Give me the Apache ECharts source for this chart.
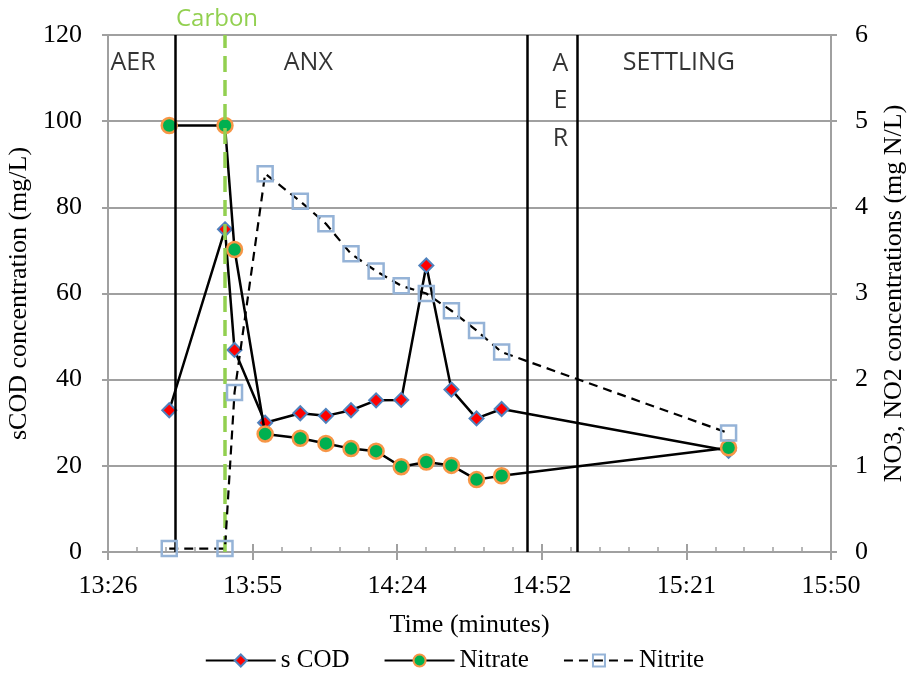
<!DOCTYPE html>
<html>
<head>
<meta charset="utf-8">
<script src="https://cdn.jsdelivr.net/npm/echarts@6/dist/echarts.min.js"></script>
<style>
  html, body { margin: 0; padding: 0; background: #fff; }
  #main { width: 909px; height: 676px; }
</style>
</head>
<body>
<div id="main"></div>
<script>
// sample times, in minutes after midnight
const times = [818.6, 829.7, 831.6, 837.7, 844.7, 849.8, 854.8, 859.8, 864.8, 869.8, 874.8, 879.8, 884.8, 930.0];
const scod = [32.9, 74.9, 46.9, 30.0, 32.2, 31.6, 32.9, 35.2, 35.3, 66.5, 37.7, 31.0, 33.2, 23.5];
const nitrate = [4.95, 4.95, 3.51, 1.37, 1.32, 1.26, 1.20, 1.17, 0.99, 1.045, 1.005, 0.84, 0.885, 1.21];
const nitrite = [0.04, 0.04, 1.85, 4.39, 4.07, 3.81, 3.46, 3.26, 3.09, 3.0, 2.80, 2.57, 2.32, 1.38];

// phase boundaries and carbon dosing time (minutes)
const phaseLines = [819.7, 889.85, 899.9];
const carbonTime = 829.7;
const phaseNames = ['AER', 'ANX', 'A\nE\nR', 'SETTLING'];
const phaseLabelTimes = [811.4, 846.3, 896.5, 920.1];
const phaseLabelLevels = [113.5, 113.5, 104.7, 113.5];

const serif = 'Liberation Serif';
const sans = 'Open Sans';
const grey = '#a0a0a0';

function toClock(v) {
    const m = Math.floor(v + 0.01);
    const h = Math.floor(m / 60);
    const mm = m % 60;
    return h + ':' + (mm < 10 ? '0' : '') + mm;
}

const pairs = arr => arr.map((v, i) => [times[i], v]);

const chart = echarts.init(document.getElementById('main'));

const xRange = { type: 'value', min: 806.4, max: 950.4, interval: 28.8 };

chart.setOption({
    animation: false,
    textStyle: { fontFamily: serif, color: '#000' },
    grid: { left: 108, right: 78, top: 35, bottom: 124, containLabel: false, outerBoundsMode: 'none' },
    legend: {
        data: ['s COD', 'Nitrate', 'Nitrite'],
        top: 643,
        itemWidth: 70,
        itemHeight: 15,
        itemGap: 34,
        textStyle: { fontFamily: serif, fontSize: 25, color: '#000' }
    },
    xAxis: [
        {
            ...xRange,
            position: 'bottom',
            name: 'Time (minutes)',
            nameLocation: 'middle',
            nameGap: 60,
            nameTextStyle: { fontFamily: serif, fontSize: 26, color: '#000' },
            axisLine: { lineStyle: { color: grey, width: 2 } },
            axisTick: { inside: true, length: 8, lineStyle: { color: grey, width: 2 } },
            minorTick: { show: true, splitNumber: 5, length: 5, lineStyle: { color: grey, width: 1.5 } },
            splitLine: { show: false },
            axisLabel: { fontFamily: serif, fontSize: 26, color: '#000', margin: 21, formatter: toClock }
        },
        {
            ...xRange,
            position: 'bottom',
            axisLine: { show: false },
            axisTick: { inside: false, length: 8, lineStyle: { color: grey, width: 2 } },
            splitLine: { show: false },
            axisLabel: { show: false }
        }
    ],
    yAxis: [
        {
            type: 'value', min: 0, max: 120, interval: 20,
            name: 'sCOD concentration (mg/L)',
            nameLocation: 'middle',
            nameGap: 64,
            nameTextStyle: { fontFamily: serif, fontSize: 26, color: '#000' },
            axisLine: { show: true, lineStyle: { color: grey, width: 2 } },
            axisTick: { show: true, length: 6, lineStyle: { color: grey, width: 2 } },
            splitLine: { lineStyle: { color: grey, width: 2 } },
            axisLabel: { fontFamily: serif, fontSize: 26, color: '#000', margin: 26 }
        },
        {
            type: 'value', min: 0, max: 6, interval: 1,
            position: 'right',
            name: 'NO3, NO2 concentrations (mg N/L)',
            nameLocation: 'middle',
            nameGap: 50,
            nameRotate: 90,
            nameTextStyle: { fontFamily: serif, fontSize: 26, color: '#000' },
            axisLine: { show: true, lineStyle: { color: grey, width: 2 } },
            axisTick: { show: true, length: 6, lineStyle: { color: grey, width: 2 } },
            splitLine: { show: false },
            axisLabel: { fontFamily: serif, fontSize: 26, color: '#000', margin: 24 }
        }
    ],
    series: [
        {
            name: 's COD',
            type: 'line',
            yAxisIndex: 0,
            data: pairs(scod),
            symbol: 'diamond',
            symbolSize: 14,
            lineStyle: { color: '#000', width: 2.5 },
            itemStyle: { color: '#ff0000', borderColor: '#4f81bd', borderWidth: 2 },
            z: 3,
            markLine: {
                silent: true,
                symbol: 'none',
                animation: false,
                data: phaseLines.map(v => ({
                    xAxis: v,
                    lineStyle: { color: '#000', width: 2.5, type: 'solid' },
                    label: { show: false }
                })).concat([{
                    xAxis: carbonTime,
                    lineStyle: { color: '#92d050', width: 3.5, type: [16, 8] },
                    label: {
                        show: true, position: 'end', formatter: 'Carbon', distance: 4,
                        padding: [0, 16, 0, 0],
                        fontFamily: sans, fontSize: 24, color: '#92d050'
                    }
                }])
            }
        },
        {
            name: 'Nitrate',
            type: 'line',
            yAxisIndex: 1,
            data: pairs(nitrate),
            symbol: 'circle',
            symbolSize: 15,
            lineStyle: { color: '#000', width: 2.5 },
            itemStyle: { color: '#00b050', borderColor: '#f79646', borderWidth: 2.5 },
            z: 4
        },
        {
            name: 'Nitrite',
            type: 'line',
            yAxisIndex: 1,
            data: pairs(nitrite),
            symbol: 'rect',
            symbolSize: 15,
            lineStyle: { color: '#000', width: 2.2, type: [9, 6] },
            itemStyle: { color: 'rgba(255,255,255,0)', borderColor: '#95b3d7', borderWidth: 2.5 },
            z: 5
        },
        {
            name: 'phases',
            type: 'scatter',
            yAxisIndex: 0,
            silent: true,
            symbolSize: 0,
            data: phaseNames.map((n, i) => [phaseLabelTimes[i], phaseLabelLevels[i], n]),
            label: {
                show: true,
                position: 'inside',
                formatter: p => p.data[2],
                fontFamily: sans,
                fontSize: 25,
                lineHeight: 37.5,
                color: '#000'
            }
        }
    ]
});

window.addEventListener('resize', () => chart.resize());
</script>
</body>
</html>
